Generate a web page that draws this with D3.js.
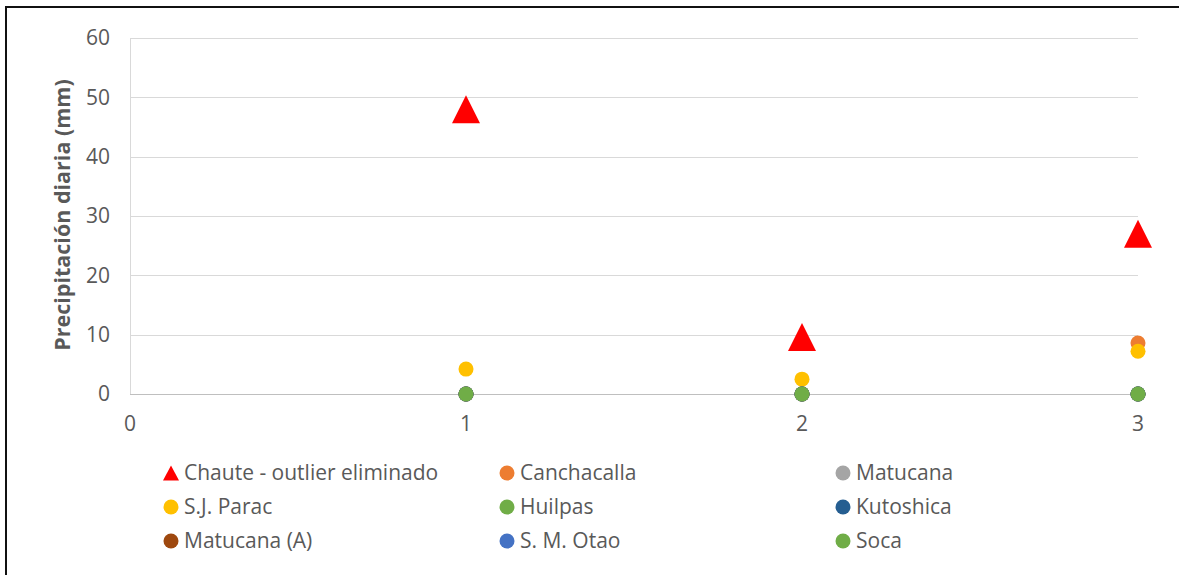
<!DOCTYPE html>
<html>
<head>
<meta charset="utf-8">
<script src="https://cdn.jsdelivr.net/npm/d3@7"></script>
<style>
  html, body { margin: 0; padding: 0; background: #fff; }
  svg { display: block; }
</style>
</head>
<body>
<svg id="chart" width="1179" height="575"></svg>
<script>
// Daily precipitation (mm) per day, one array per station
const days = [1, 2, 3];
const seriesNames = ["Chaute - outlier eliminado", "Canchacalla", "Matucana", "S.J. Parac", "Huilpas", "Kutoshica", "Matucana (A)", "S. M. Otao", "Soca"];
const chaute = [48, 9.6, 27];
const canchacalla = [0, 0, 8.6];
const matucana = [0, 0, 0];
const sjParac = [4.2, 2.5, 7.2];
const huilpas = [0, 0, 0];
const kutoshica = [0, 0, 0];
const matucanaA = [0, 0, 0];
const smOtao = [0, 0, 0];
const soca = [0, 0, 0];
const xTicks = [0, 1, 2, 3];
const yTicks = [0, 10, 20, 30, 40, 50, 60];

const seriesValues = [chaute, canchacalla, matucana, sjParac, huilpas, kutoshica, matucanaA, smOtao, soca];
const colors = ["#ff0000", "#ed7d31", "#a5a5a5", "#ffc000", "#70ad47", "#255e91", "#9e480e", "#4472c4", "#70ad47"];
const shapes = ["triangle", "circle", "circle", "circle", "circle", "circle", "circle", "circle", "circle"];

const series = seriesNames.map((name, i) => ({
  name, color: colors[i], shape: shapes[i],
  points: days.map((d, j) => ({ x: d, y: seriesValues[i][j] }))
}));

const svg = d3.select("#chart");
const font = "'Open Sans', 'Noto Sans', sans-serif";
const textColor = "#595959";

// outer frame (top and left edges visible)
svg.append("line").attr("x1", 6).attr("x2", 1179).attr("y1", 7).attr("y2", 7)
  .attr("stroke", "#111").attr("stroke-width", 2);
svg.append("line").attr("x1", 6).attr("x2", 6).attr("y1", 6).attr("y2", 575)
  .attr("stroke", "#111").attr("stroke-width", 2);

const x = d3.scaleLinear().domain([0, 3]).range([130, 1138]);
const y = d3.scaleLinear().domain([0, 60]).range([394, 38]);

// horizontal gridlines
svg.append("g").selectAll("line").data(yTicks.filter(t => t > 0)).join("line")
  .attr("x1", x(0)).attr("x2", x(3))
  .attr("y1", d => Math.round(y(d)) + 0.5).attr("y2", d => Math.round(y(d)) + 0.5)
  .attr("stroke", "#d9d9d9").attr("stroke-width", 1);

// axes lines
svg.append("line").attr("x1", x(0)).attr("x2", x(3))
  .attr("y1", Math.round(y(0)) + 0.5).attr("y2", Math.round(y(0)) + 0.5)
  .attr("stroke", "#bfbfbf");
svg.append("line").attr("x1", x(0) + 0.5).attr("x2", x(0) + 0.5)
  .attr("y1", y(60)).attr("y2", y(0))
  .attr("stroke", "#d9d9d9");

// y tick labels
svg.append("g").selectAll("text").data(yTicks).join("text")
  .attr("x", 110).attr("y", d => y(d))
  .attr("dy", "0.35em").attr("text-anchor", "end")
  .attr("font-family", font).attr("font-size", 21).attr("fill", textColor)
  .text(d => d);

// x tick labels
svg.append("g").selectAll("text").data(xTicks).join("text")
  .attr("x", d => x(d)).attr("y", 424)
  .attr("dy", "0.35em").attr("text-anchor", "middle")
  .attr("font-family", font).attr("font-size", 21).attr("fill", textColor)
  .text(d => d);

// y axis title
svg.append("text")
  .attr("transform", `translate(62, 215) rotate(-90)`)
  .attr("dy", "0.35em")
  .attr("text-anchor", "middle")
  .attr("font-family", font).attr("font-size", 21.5).attr("font-weight", "bold")
  .attr("fill", textColor)
  .text("Precipitación diaria (mm)");

function drawMarker(g, shape, color, cx, cy, big) {
  if (shape === "triangle") {
    const w = big ? 28 : 16, h = big ? 28 : 15;
    g.append("path")
      .attr("d", `M${cx},${cy - h / 2} L${cx + w / 2},${cy + h / 2} L${cx - w / 2},${cy + h / 2} Z`)
      .attr("fill", color);
  } else {
    g.append("circle").attr("cx", cx).attr("cy", cy).attr("r", 7.5)
      .attr("fill", color);
  }
}

// data points
const marks = svg.append("g");
series.forEach(s => {
  s.points.forEach(p => {
    drawMarker(marks, s.shape, s.color, x(p.x), y(p.y), true);
  });
});

// legend
const legendCols = [171, 507, 843];
const legendRows = [473, 507, 541];
const legend = svg.append("g");
series.forEach((s, i) => {
  const cx = legendCols[i % 3];
  const cy = legendRows[Math.floor(i / 3)];
  drawMarker(legend, s.shape, s.color, cx, cy, false);
  legend.append("text")
    .attr("x", cx + 13).attr("y", cy).attr("dy", "0.35em")
    .attr("font-family", font).attr("font-size", 21).attr("fill", textColor)
    .text(s.name);
});
</script>
</body>
</html>
